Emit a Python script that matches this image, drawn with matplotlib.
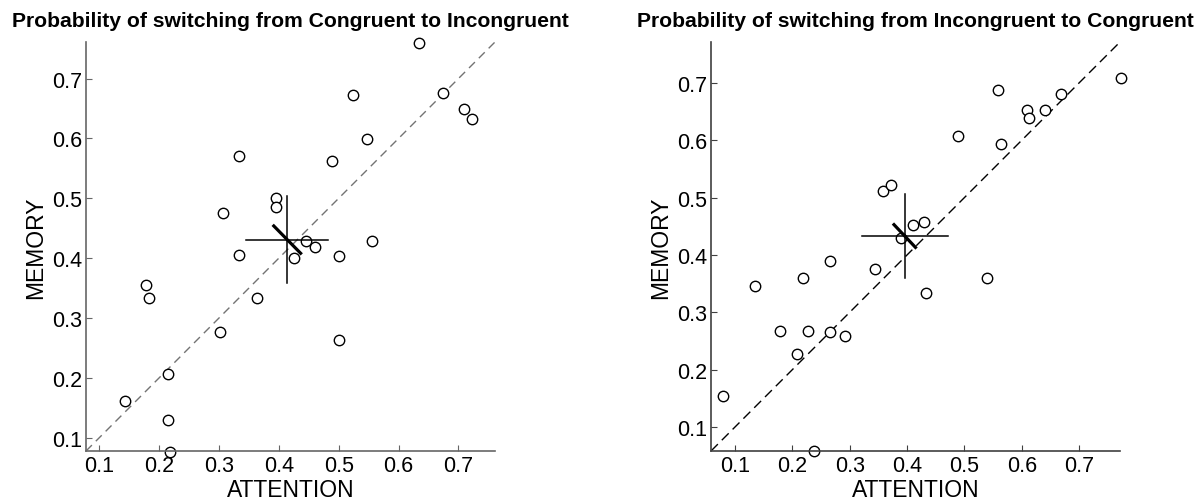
import numpy as np
import matplotlib
matplotlib.use("Agg")
import matplotlib.pyplot as plt

plt.rcParams['font.family'] = ['Liberation Sans', 'DejaVu Sans']

# left panel: Congruent -> Incongruent
att_ci = [0.634, 0.524, 0.674, 0.709, 0.723, 0.548, 0.334, 0.489, 0.395, 0.395,
          0.306, 0.445, 0.460, 0.556, 0.425, 0.334, 0.501, 0.179, 0.183, 0.364,
          0.301, 0.501, 0.215, 0.143, 0.215, 0.218]
mem_ci = [0.759, 0.672, 0.676, 0.649, 0.633, 0.599, 0.571, 0.563, 0.500, 0.486,
          0.476, 0.428, 0.419, 0.428, 0.400, 0.405, 0.403, 0.356, 0.333, 0.333,
          0.276, 0.264, 0.207, 0.161, 0.129, 0.077]
mean_ci = (0.414, 0.431)
err_ci_x = (0.345, 0.482)
err_ci_y = (0.359, 0.503)
diag_ci = (0.0224, 0.0228)

# right panel: Incongruent -> Congruent
att_ic = [0.772, 0.559, 0.668, 0.609, 0.640, 0.612, 0.489, 0.563, 0.358, 0.372,
          0.410, 0.430, 0.390, 0.266, 0.345, 0.136, 0.219, 0.540, 0.433, 0.179,
          0.227, 0.266, 0.292, 0.208, 0.080, 0.238]
mem_ic = [0.708, 0.687, 0.680, 0.653, 0.653, 0.638, 0.607, 0.594, 0.512, 0.522,
          0.453, 0.458, 0.430, 0.389, 0.375, 0.346, 0.360, 0.360, 0.333, 0.267,
          0.267, 0.266, 0.259, 0.227, 0.154, 0.059]
mean_ic = (0.396, 0.433)
err_ic_x = (0.322, 0.471)
err_ic_y = (0.360, 0.506)
diag_ic = (0.0187, 0.0198)

ticks = [0.1, 0.2, 0.3, 0.4, 0.5, 0.6, 0.7]

fig = plt.figure(figsize=(12.01, 5.02), dpi=100)
ax1 = fig.add_axes([86/1201, 50/502, 409/1201, 409/502])
ax2 = fig.add_axes([711/1201, 50/502, 409/1201, 409/502])


def draw(ax, att, mem, mean, ex, ey, dg, lims, title, dcol, spcol, dashes):
    ax.plot(lims, lims, color=dcol, lw=1, dashes=dashes)
    ax.plot(att, mem, 'o', mfc='white', mec='black', ms=7.5, mew=1, clip_on=False)
    ax.plot(ex, [mean[1], mean[1]], color='black', lw=1.1)
    ax.plot([mean[0], mean[0]], ey, color='black', lw=1.1)
    ax.plot([mean[0] - dg[0], mean[0] + dg[0]], [mean[1] + dg[1], mean[1] - dg[1]],
            color='black', lw=2.3)
    ax.set_xlim(lims)
    ax.set_ylim(lims)
    ax.set_xticks(ticks)
    ax.set_yticks(ticks)
    ax.spines['top'].set_visible(False)
    ax.spines['right'].set_visible(False)
    for s in ['left', 'bottom']:
        ax.spines[s].set_color(spcol)
        ax.spines[s].set_linewidth(1.2)
    ax.tick_params(direction='in', length=4, width=0.8, color=spcol,
                   labelsize=15.5, pad=3)
    ax.set_xlabel('ATTENTION', fontsize=16.5, labelpad=1)
    ax.set_ylabel('MEMORY', fontsize=16.5, labelpad=3)
    ax.set_title(title, fontsize=15.2, fontweight='bold', pad=11.5)


draw(ax1, att_ci, mem_ci, mean_ci, err_ci_x, err_ci_y, diag_ci, (0.078, 0.761),
     'Probability of switching from Congruent to Incongruent', '0.45', '0.4', (6, 4))
draw(ax2, att_ic, mem_ic, mean_ic, err_ic_x, err_ic_y, diag_ic, (0.0585, 0.771),
     'Probability of switching from Incongruent to Congruent', 'black', '0.25', (7, 4))

fig.savefig('out.png', dpi=100)
